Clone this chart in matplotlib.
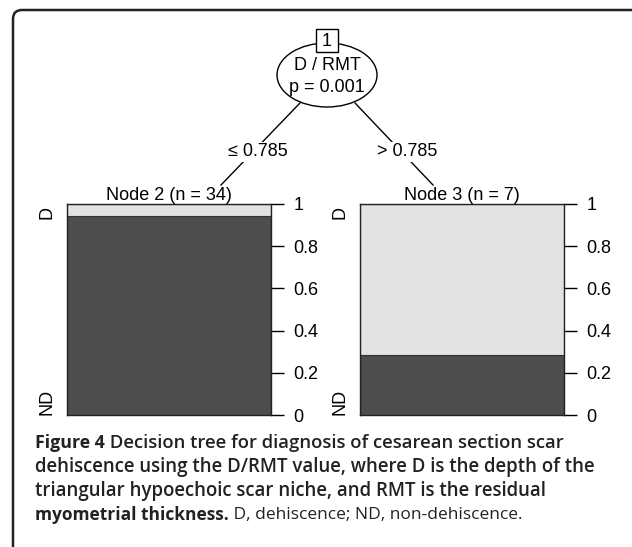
import matplotlib
matplotlib.use("Agg")
import matplotlib.pyplot as plt
from matplotlib.patches import Ellipse, Rectangle
from matplotlib.path import Path
from matplotlib.patches import PathPatch

# tree data
split_var = "D / RMT"
p_value = "0.001"
split_point = "0.785"
node_ids = [2, 3]
node_n = [34, 7]
d_counts = [2, 5]
nd_counts = [32, 2]
class_labels = ["D", "ND"]
tick_vals = [0, 0.2, 0.4, 0.6, 0.8, 1]
tick_labels = ["0", "0.2", "0.4", "0.6", "0.8", "1"]

DARK = "#4d4d4d"
LIGHT = "#e3e3e3"
TREE_FONT = ["Liberation Sans", "DejaVu Sans"]
CAP_FONT = ["Open Sans", "DejaVu Sans"]

W, H = 632, 547
fig = plt.figure(figsize=(W / 100, H / 100), dpi=100)
bg = fig.add_axes([0, 0, 1, 1])
bg.set_xlim(0, W)
bg.set_ylim(H, 0)
bg.axis("off")

# frame (rounded top-left corner, open at right and bottom)
r = 9
verts = [(13, H + 5), (13, 10 + r), (13, 10), (13 + r, 10), (W + 5, 10)]
codes = [Path.MOVETO, Path.LINETO, Path.CURVE3, Path.CURVE3, Path.LINETO]
bg.add_patch(PathPatch(Path(verts, codes), fc="none", ec="#222222", lw=1.8))

# edges with split labels
bg.plot([300, 221], [103, 185], color="black", lw=1)
bg.plot([355, 433], [103, 185], color="black", lw=1)
bg.text(258, 152, "\u2264 " + split_point, ha="center", va="center", fontsize=13,
        family=TREE_FONT, bbox=dict(fc="white", ec="none", pad=1))
bg.text(407, 152, "> " + split_point, ha="center", va="center", fontsize=13,
        family=TREE_FONT, bbox=dict(fc="white", ec="none", pad=1))

# root node
bg.add_patch(Ellipse((327, 75), 100, 64, fc="white", ec="black", lw=1, zorder=3))
bg.text(327, 66, split_var, ha="center", va="center", fontsize=13, family=TREE_FONT, zorder=4)
bg.text(327, 87, "p = " + p_value, ha="center", va="center", fontsize=13, family=TREE_FONT, zorder=4)
bg.add_patch(Rectangle((316, 29), 22, 23, fc="white", ec="black", lw=1, zorder=5))
bg.text(327, 41, "1", ha="center", va="center", fontsize=13, family=TREE_FONT, zorder=6)

# terminal nodes
lefts = [67, 360]
box_w, box_top, box_bot = 204, 204, 415
for i in range(len(node_ids)):
    total = d_counts[i] + nd_counts[i]
    nd_frac = nd_counts[i] / total
    d_frac = d_counts[i] / total
    ax = fig.add_axes([lefts[i] / W, (H - box_bot) / H, box_w / W, (box_bot - box_top) / H])
    ax.bar(0, nd_frac, width=1, color=DARK, edgecolor="#333333", lw=0.8)
    ax.bar(0, d_frac, bottom=nd_frac, width=1, color=LIGHT, edgecolor="#333333", lw=0.8)
    ax.set_xlim(-0.5, 0.5)
    ax.set_ylim(0, 1)
    ax.set_xticks([])
    ax.yaxis.tick_right()
    ax.set_yticks(tick_vals)
    ax.set_yticklabels(tick_labels, family=TREE_FONT)
    ax.tick_params(axis="y", length=9, width=1, pad=7, labelsize=13)
    for s in ax.spines.values():
        s.set_linewidth(1)
        s.set_color("#222222")
    ax.set_title("Node %d (n = %d)" % (node_ids[i], node_n[i]), fontsize=13,
                 family=TREE_FONT, pad=1)
    ax.text(-0.1, 0.96, class_labels[0], transform=ax.transAxes, rotation=90,
            ha="center", va="center", fontsize=13, family=TREE_FONT)
    ax.text(-0.1, 0.06, class_labels[1], transform=ax.transAxes, rotation=90,
            ha="center", va="center", fontsize=13, family=TREE_FONT)

# caption
cap_head = "Figure 4"
cap_lines = [
    " Decision tree for diagnosis of cesarean section scar",
    "dehiscence using the D/RMT value, where D is the depth of the",
    "triangular hypoechoic scar niche, and RMT is the residual",
]
cap_last_bold = "myometrial thickness."
cap_tail = " D, dehiscence; ND, non-dehiscence."
cap_y = [443, 467, 491, 515]
CAP_COL = "#222222"

head = bg.text(35, cap_y[0], cap_head, ha="left", va="center", fontsize=12.8,
               family=CAP_FONT, weight="bold", color=CAP_COL)
bg.annotate(cap_lines[0], xy=(1, 0.5), xycoords=head, ha="left", va="center",
            fontsize=13.3, family=CAP_FONT, weight="semibold", color=CAP_COL)
for txt, y in zip(cap_lines[1:], cap_y[1:3]):
    bg.text(35, y, txt, ha="left", va="center", fontsize=13.4,
            family=CAP_FONT, weight="semibold", color=CAP_COL)
last = bg.text(35, cap_y[3], cap_last_bold, ha="left", va="center", fontsize=12.5,
               family=CAP_FONT, weight="bold", color=CAP_COL)
bg.annotate(cap_tail, xy=(1, 0.5), xycoords=last, ha="left", va="center",
            fontsize=12.5, family=CAP_FONT, color=CAP_COL)

fig.savefig("out.png", dpi=100)
